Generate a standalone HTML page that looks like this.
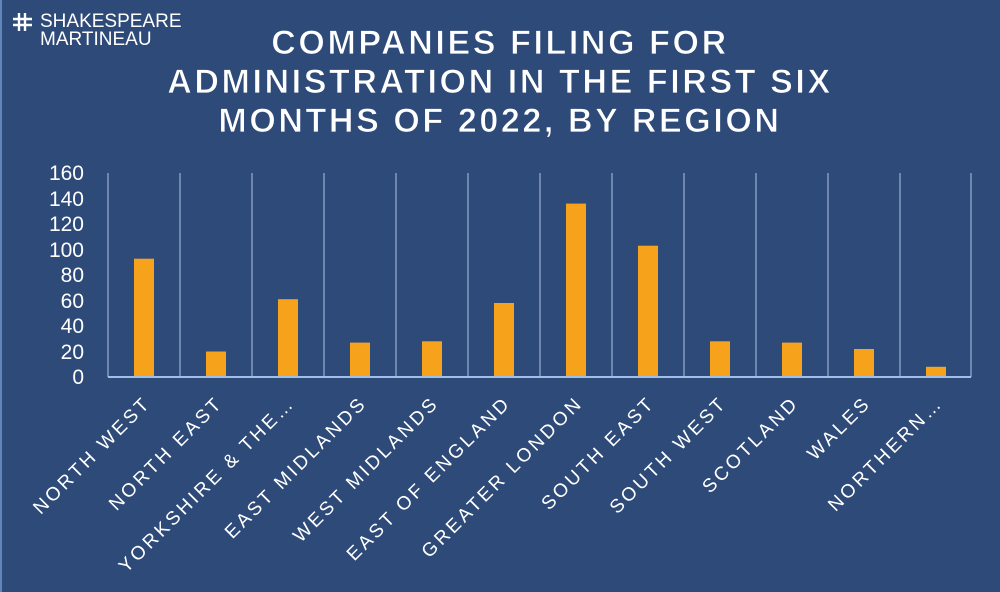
<!DOCTYPE html>
<html><head><style>
html,body{margin:0;padding:0;background:#2e4a78;}
svg{display:block;}
text{font-family:"Liberation Sans",sans-serif;fill:#fff;}
</style></head><body>
<svg width="1000" height="592" viewBox="0 0 1000 592">
<rect width="1000" height="592" fill="#2e4a78"/>
<rect x="0" y="0" width="2" height="592" fill="#5f86b8"/>
<!-- logo -->
<g stroke="#fff" stroke-width="2.4">
<line x1="19" y1="13" x2="19" y2="31"/><line x1="25" y1="13" x2="25" y2="31"/>
<line x1="13" y1="19" x2="32" y2="19"/><line x1="13" y1="25" x2="32" y2="25"/>
</g>
<text x="40" y="27" font-size="19">SHAKESPEARE</text>
<text x="40" y="45" font-size="19">MARTINEAU</text>
<!-- title -->
<g font-size="34" text-anchor="middle" letter-spacing="2.6" font-weight="bold" stroke="#2e4a78" stroke-width="0.8">
<text x="500" y="54">COMPANIES FILING FOR</text>
<text x="500" y="93">ADMINISTRATION IN THE FIRST SIX</text>
<text x="500" y="132">MONTHS OF 2022, BY REGION</text>
</g>
<!-- grid -->
<g stroke="#6f87ad" stroke-width="2">
<line x1="108" y1="173" x2="108" y2="377"/><line x1="180" y1="173" x2="180" y2="377"/>
<line x1="252" y1="173" x2="252" y2="377"/><line x1="324" y1="173" x2="324" y2="377"/>
<line x1="396" y1="173" x2="396" y2="377"/><line x1="468" y1="173" x2="468" y2="377"/>
<line x1="540" y1="173" x2="540" y2="377"/><line x1="612" y1="173" x2="612" y2="377"/>
<line x1="684" y1="173" x2="684" y2="377"/><line x1="756" y1="173" x2="756" y2="377"/>
<line x1="828" y1="173" x2="828" y2="377"/><line x1="900" y1="173" x2="900" y2="377"/>
<line x1="971" y1="173" x2="971" y2="377"/>
</g>
<!-- y labels -->
<g font-size="21" text-anchor="end">
<text x="84" y="180">160</text><text x="84" y="206">140</text><text x="84" y="231">120</text>
<text x="84" y="257">100</text><text x="84" y="282">80</text><text x="84" y="308">60</text>
<text x="84" y="333">40</text><text x="84" y="359">20</text><text x="84" y="384">0</text>
</g>
<!-- bars -->
<g fill="#f7a21b">
<rect x="134" y="258.7" width="20" height="118.3"/>
<rect x="206" y="351.5" width="20" height="25.5"/>
<rect x="278" y="299.2" width="20" height="77.8"/>
<rect x="350" y="342.6" width="20" height="34.4"/>
<rect x="422" y="341.3" width="20" height="35.7"/>
<rect x="494" y="303" width="20" height="74"/>
<rect x="566" y="203.6" width="20" height="173.4"/>
<rect x="638" y="245.7" width="20" height="131.3"/>
<rect x="710" y="341.3" width="20" height="35.7"/>
<rect x="782" y="342.6" width="20" height="34.4"/>
<rect x="854" y="349" width="20" height="28"/>
<rect x="926" y="366.8" width="20" height="10.2"/>
</g>
<line x1="108" y1="377" x2="971" y2="377" stroke="#9fc0ea" stroke-width="2"/>
<!-- x labels -->
<g font-size="19" text-anchor="end" letter-spacing="3">
<text transform="translate(152,404) rotate(-45)">NORTH WEST</text>
<text transform="translate(224,404) rotate(-45)">NORTH EAST</text>
<text transform="translate(296,404) rotate(-45)">YORKSHIRE &amp; THE…</text>
<text transform="translate(368,404) rotate(-45)">EAST MIDLANDS</text>
<text transform="translate(440,404) rotate(-45)">WEST MIDLANDS</text>
<text transform="translate(512,404) rotate(-45)">EAST OF ENGLAND</text>
<text transform="translate(584,404) rotate(-45)">GREATER LONDON</text>
<text transform="translate(656,404) rotate(-45)">SOUTH EAST</text>
<text transform="translate(728,404) rotate(-45)">SOUTH WEST</text>
<text transform="translate(800,404) rotate(-45)">SCOTLAND</text>
<text transform="translate(872,404) rotate(-45)">WALES</text>
<text transform="translate(944,404) rotate(-45)">NORTHERN…</text>
</g>
</svg>
</body></html>
